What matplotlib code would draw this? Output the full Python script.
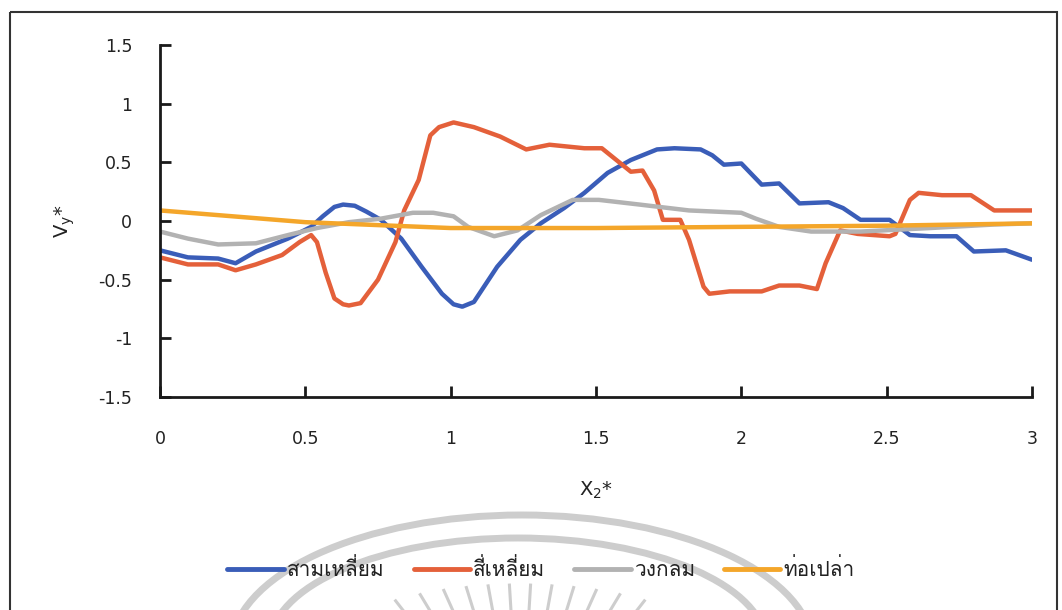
import matplotlib
matplotlib.use("Agg")
import matplotlib.pyplot as plt
import numpy as np
from matplotlib import font_manager, ft2font
from matplotlib.patches import Rectangle, Arc

# ---- data ----
x_tri = [0.0, 0.096, 0.2, 0.26, 0.33, 0.44, 0.52, 0.56, 0.60, 0.63, 0.67, 0.71, 0.76, 0.83, 0.90, 0.97,
         1.01, 1.04, 1.08, 1.16, 1.24, 1.31, 1.39, 1.46, 1.54, 1.62, 1.71, 1.77, 1.86, 1.90, 1.94, 2.0,
         2.07, 2.13, 2.20, 2.30, 2.35, 2.41, 2.51, 2.58, 2.65, 2.74, 2.80, 2.91, 3.0]
y_tri = [-0.25, -0.31, -0.32, -0.36, -0.26, -0.15, -0.05, 0.04, 0.12, 0.14, 0.13, 0.08, 0.01, -0.15, -0.39, -0.62,
         -0.71, -0.73, -0.69, -0.39, -0.16, -0.02, 0.11, 0.24, 0.41, 0.52, 0.61, 0.62, 0.61, 0.56, 0.48, 0.49,
         0.31, 0.32, 0.15, 0.16, 0.11, 0.01, 0.01, -0.12, -0.13, -0.13, -0.26, -0.25, -0.33]

x_sq = [0.0, 0.096, 0.2, 0.26, 0.33, 0.42, 0.48, 0.52, 0.54, 0.57, 0.60, 0.63, 0.65, 0.69, 0.75, 0.81,
        0.84, 0.89, 0.93, 0.96, 1.01, 1.08, 1.17, 1.26, 1.34, 1.46, 1.52, 1.57, 1.62, 1.66, 1.70, 1.73,
        1.79, 1.82, 1.87, 1.89, 1.96, 2.07, 2.13, 2.20, 2.26, 2.29, 2.34, 2.40, 2.51, 2.53, 2.58,
        2.61, 2.69, 2.79, 2.87, 3.0]
y_sq = [-0.31, -0.37, -0.37, -0.42, -0.37, -0.29, -0.18, -0.12, -0.18, -0.44, -0.66, -0.71, -0.72, -0.70, -0.50, -0.18,
        0.09, 0.35, 0.73, 0.80, 0.84, 0.80, 0.72, 0.61, 0.65, 0.62, 0.62, 0.52, 0.42, 0.43, 0.26, 0.01,
        0.01, -0.16, -0.56, -0.62, -0.60, -0.60, -0.55, -0.55, -0.58, -0.36, -0.08, -0.11, -0.13, -0.11, 0.18,
        0.24, 0.22, 0.22, 0.09, 0.09]

x_cir = [0.0, 0.096, 0.2, 0.33, 0.44, 0.54, 0.65, 0.76, 0.87, 0.94, 1.01, 1.06, 1.15, 1.23, 1.31,
         1.42, 1.51, 1.65, 1.82, 2.0, 2.05, 2.13, 2.24, 2.41, 2.65, 2.87, 3.0]
y_cir = [-0.09, -0.15, -0.20, -0.19, -0.12, -0.06, -0.01, 0.02, 0.07, 0.07, 0.04, -0.05, -0.13, -0.08, 0.05,
         0.18, 0.18, 0.14, 0.09, 0.07, 0.02, -0.05, -0.09, -0.09, -0.06, -0.03, -0.02]

x_pipe = [0.0, 0.5, 1.0, 1.5, 2.0, 2.5, 3.0]
y_pipe = [0.09, -0.01, -0.06, -0.06, -0.05, -0.04, -0.02]

labels = ["สามเหลี่ยม", "สี่เหลี่ยม", "วงกลม", "ท่อเปล่า"]
colors = ["#3A5DB8", "#E4603A", "#B2B2B2", "#F4A62A"]


def pick_thai_font(preferred=("Loma", "Tahoma", "Noto Sans Thai")):
    found = []
    for f in font_manager.fontManager.ttflist:
        try:
            if 0x0E2A in ft2font.FT2Font(f.fname).get_charmap():
                found.append(f.name)
        except Exception:
            pass
    for name in preferred:
        if name in found:
            return name
    return found[0] if found else "DejaVu Sans"


thai_font = pick_thai_font()

plt.rcParams["font.family"] = ["DejaVu Sans"]
plt.rcParams["mathtext.default"] = "regular"

fig = plt.figure(figsize=(10.62, 6.10), dpi=100)

# scanned-page decoration: border and faint watermark (pixel coords)
bg = fig.add_axes([0, 0, 1, 1], zorder=-5)
bg.set_xlim(0, 1062)
bg.set_ylim(610, 0)
bg.axis("off")
bg.add_patch(Rectangle((10, 12), 1047, 620, fill=False, lw=1.5, ec="#333333"))
wm = "#cdcdcd"
bg.add_patch(Arc((522, 650), 582, 270, theta1=180, theta2=360, lw=5, color=wm))
bg.add_patch(Arc((518, 645), 496, 214, theta1=180, theta2=360, lw=5, color=wm))
for ang in np.linspace(52, 128, 12):
    a = np.radians(ang)
    r_top = 175 + 27 * ((ang - 90) / 38) ** 2
    bg.plot([520 + r_top * np.cos(a), 520 + 100 * np.cos(a)],
            [760 - r_top * np.sin(a), 760 - 100 * np.sin(a)], color=wm, lw=2.2)

ax = fig.add_axes([160 / 1062, 1 - 397 / 610, 872 / 1062, 352 / 610])
ax.patch.set_alpha(0)
for xs, ys, c, lab in [(x_tri, y_tri, colors[0], labels[0]),
                       (x_sq, y_sq, colors[1], labels[1]),
                       (x_cir, y_cir, colors[2], labels[2]),
                       (x_pipe, y_pipe, colors[3], labels[3])]:
    ax.plot(xs, ys, color=c, lw=3.2, label=lab, solid_joinstyle="round", solid_capstyle="round")

ax.set_xlim(0, 3)
ax.set_ylim(-1.5, 1.5)
ax.set_xticks([0, 0.5, 1, 1.5, 2, 2.5, 3])
ax.set_xticklabels(["0", "0.5", "1", "1.5", "2", "2.5", "3"])
ax.set_yticks([-1.5, -1, -0.5, 0, 0.5, 1, 1.5])
ax.set_yticklabels(["-1.5", "-1", "-0.5", "0", "0.5", "1", "1.5"])
for s in ["top", "right"]:
    ax.spines[s].set_visible(False)
for s in ["left", "bottom"]:
    ax.spines[s].set_linewidth(2)
    ax.spines[s].set_color("#1a1a1a")
ax.tick_params(direction="in", length=8, width=2, color="#1a1a1a", labelsize=12.5, labelcolor="#222222")
ax.tick_params(axis="x", pad=24)
ax.tick_params(axis="y", pad=20)

fig.text(596 / 1062, 1 - 490 / 610, "X$_2$*", ha="center", va="center", fontsize=14, color="#222222")
fig.text(65 / 1062, 1 - 221 / 610, "V$_y$*", ha="center", va="center", rotation=90, fontsize=14, color="#222222")

leg = fig.legend(loc="center", bbox_to_anchor=(541 / 1062, 1 - 569 / 610), ncol=4, frameon=False,
                 handlelength=2.7, handletextpad=0.15, columnspacing=1.4,
                 prop={"family": [thai_font, "DejaVu Sans"], "size": 15})
for line in leg.get_lines():
    line.set_linewidth(3.5)
for t in leg.get_texts():
    t.set_color("#222222")

fig.savefig("out.png", dpi=100)
